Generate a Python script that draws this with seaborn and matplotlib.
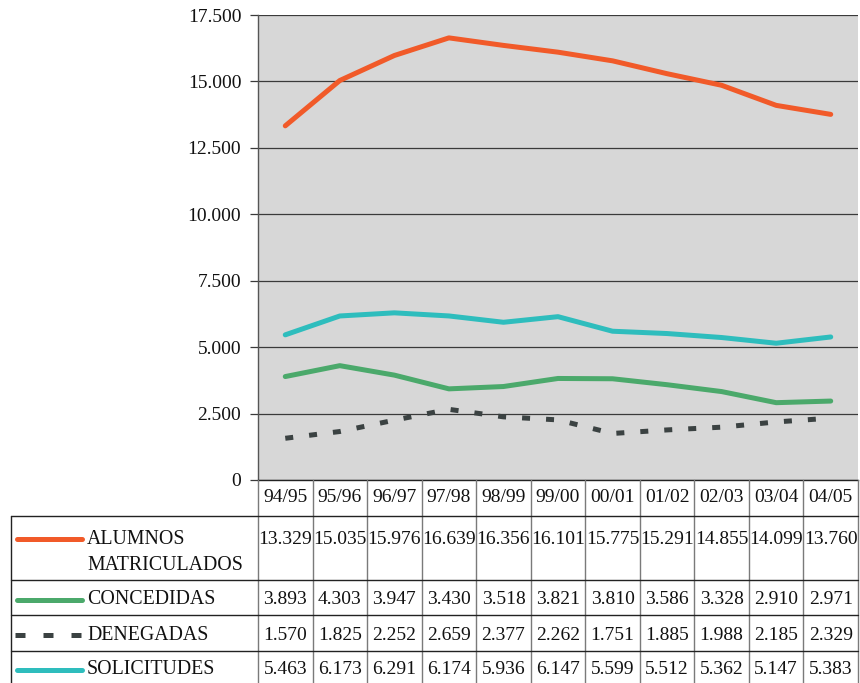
import numpy as np
import pandas as pd
import matplotlib
matplotlib.use("Agg")
import matplotlib.pyplot as plt
import seaborn as sns

# data
cursos = ["94/95", "95/96", "96/97", "97/98", "98/99", "99/00",
          "00/01", "01/02", "02/03", "03/04", "04/05"]
alumnos = [13329, 15035, 15976, 16639, 16356, 16101, 15775, 15291, 14855, 14099, 13760]
concedidas = [3893, 4303, 3947, 3430, 3518, 3821, 3810, 3586, 3328, 2910, 2971]
denegadas = [1570, 1825, 2252, 2659, 2377, 2262, 1751, 1885, 1988, 2185, 2329]
solicitudes = [5463, 6173, 6291, 6174, 5936, 6147, 5599, 5512, 5362, 5147, 5383]

series = [
    (["ALUMNOS", "MATRICULADOS"], alumnos, "#F15A29", None),
    (["CONCEDIDAS"], concedidas, "#4BA96B", None),
    (["DENEGADAS"], denegadas, "#3B4242", (1.6, 3.2)),
    (["SOLICITUDES"], solicitudes, "#2EBDBD", None),
]
yticks = [0, 2500, 5000, 7500, 10000, 12500, 15000, 17500]

sns.set_style("white")
plt.rcParams['font.family'] = ['Liberation Serif', 'DejaVu Serif']


def miles(v):
    return f"{v:,}".replace(",", ".")


W, H = 860, 683
fig = plt.figure(figsize=(W / 100, H / 100), dpi=100)

# plot area in pixels
L, R, T, B = 258, 858, 15, 480
ax = fig.add_axes([L / W, 1 - B / H, (R - L) / W, (B - T) / H])
ax.set_facecolor("#D7D7D7")

x = np.arange(len(cursos))
for name, vals, col, dash in series:
    df = pd.DataFrame({"x": x, "y": vals})
    sns.lineplot(data=df, x="x", y="y", ax=ax, color=col, linewidth=3.6)
    if dash:
        ax.lines[-1].set_dashes(dash)
        ax.lines[-1].set_dash_capstyle("butt")

ax.set_xlim(-0.5, len(cursos) - 0.5)
ax.set_ylim(0, 17500)
ax.set_yticks(yticks)
ax.set_yticklabels([miles(v) for v in yticks], fontsize=14)
ax.set_xticks([])
ax.set_xlabel("")
ax.set_ylabel("")
for v in yticks:
    ax.axhline(v, color="#3A3A3A", linewidth=0.9, zorder=0.5)
ax.tick_params(axis="y", direction="out", length=6, width=0.9, color="#3A3A3A",
               pad=6, left=True, labelcolor="#111111")
for s in ["top", "right"]:
    ax.spines[s].set_visible(False)
ax.spines["left"].set_color("#555555")
ax.spines["bottom"].set_color("#222222")
ax.spines["left"].set_linewidth(1.0)
ax.spines["bottom"].set_linewidth(1.0)

# data table below the chart, pixel coordinates
tax = fig.add_axes([0, 0, 1, 1])
tax.set_xlim(0, W)
tax.set_ylim(H, 0)
tax.axis("off")

colw = (R - L) / len(cursos)
edges = [L + i * colw for i in range(len(cursos) + 1)]
rows = [516, 580, 615, 651]
left_tab = 11

for e in edges:
    tax.plot([e, e], [B, H], color="#7A7A7A", linewidth=1.0)
tax.plot([left_tab, left_tab], [rows[0], H], color="#222222", linewidth=1.0)
for r in rows:
    tax.plot([left_tab, R], [r, r], color="#222222", linewidth=1.0)

for i, c in enumerate(cursos):
    tax.text(L + (i + 0.5) * colw, 497, c, ha="center", va="center", fontsize=14, color="#111111")

text_y = [539, 600, 635, 670]
for (name, vals, col, dash), ty in zip(series, text_y):
    ln, = tax.plot([17, 82], [ty, ty], color=col, linewidth=3.6)
    if dash:
        ln.set_xdata([15, 82])
        ln.set_dashes((2.0, 3.6))
        ln.set_dash_capstyle("butt")
    for k, part in enumerate(name):
        tax.text(87, ty + k * 26, part, ha="left", va="center", fontsize=14.3, color="#111111")
    for i, v in enumerate(vals):
        tax.text(L + (i + 0.5) * colw, ty, miles(v), ha="center",
                 va="center", fontsize=14, color="#111111")

fig.savefig("out.png", dpi=100)
